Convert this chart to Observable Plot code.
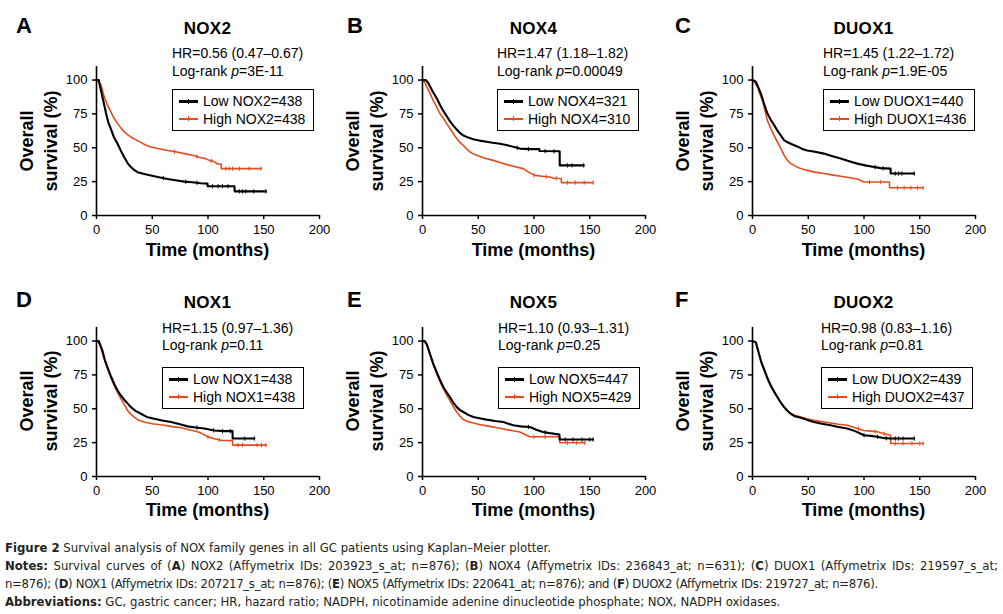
<!DOCTYPE html>
<html><head><meta charset="utf-8">
<script src="https://cdn.jsdelivr.net/npm/d3@7"></script>
<script src="https://cdn.jsdelivr.net/npm/@observablehq/plot@0.6"></script>
<style>
body{margin:0;background:#fff;}
#fig{position:relative;width:1003px;height:614px;overflow:hidden;font-family:Arial,"Liberation Sans",sans-serif;color:#000;}
.t{position:absolute;white-space:nowrap;}
.cap{position:absolute;left:5px;font-family:"Liberation Sans Narrow","DejaVu Sans Condensed",sans-serif;font-size:13px;color:#231f20;white-space:nowrap;line-height:18px;}
.leg{position:absolute;border:1px solid #000;padding:2px 8px 2px 6px;font-size:14px;line-height:18px;background:#fff;}
.sw{display:inline-block;width:19px;vertical-align:middle;margin-right:5px;position:relative;top:-1px;}
.sw i{position:absolute;left:9px;top:-4px;width:1px;height:5px;}
</style></head><body><div id="fig"></div>
<script>
// ---------- data ----------
const letters = ["A","B","C","D","E","F"];
const genes = ["NOX2","NOX4","DUOX1","NOX1","NOX5","DUOX2"];
const hrTexts = ["HR=0.56 (0.47–0.67)","HR=1.47 (1.18–1.82)","HR=1.45 (1.22–1.72)","HR=1.15 (0.97–1.36)","HR=1.10 (0.93–1.31)","HR=0.98 (0.83–1.16)"];
const pValues = ["3E-11","0.00049","1.9E-05","0.11","0.25","0.81"];
const lowN = [438,321,440,438,447,439];
const highN = [438,310,436,438,429,437];
const xTicks = [0,50,100,150,200];
const yTicks = [0,25,50,75,100];

const nox2Low = [[0,100],[2,100],[3,96],[4,92.6],[6,85],[8.4,76],[10.5,69],[12.9,64],[15.5,58],[18.9,53],[22,47.5],[24.9,43],[28,38.5],[30.8,35.8],[34,33.5],[36.8,32],[42,30.8],[48.8,29.6],[56,28.3],[63.8,27],[71,26],[78.7,25],[86,24.5],[93.7,23.8],[99.5,23.5],[99.7,21.6],[123.7,21.6],[124,17.8],[152,17.8]];
const nox2High = [[0,100],[2,99],[4,96.5],[6.9,87.6],[9.5,82],[12.9,76.5],[15.5,72],[18.9,68],[22,64.5],[24.9,61.7],[28,59.5],[30.8,58],[35,56],[39.8,54],[44,52],[48.8,50.6],[56,49.3],[63.8,48],[71,47],[78.7,45.7],[86,44.5],[93.7,42.7],[98,42],[101,40.7],[105,40],[108.7,38],[111.8,38],[112,34.6],[147.6,34.6]];
const nox4Low = [[0,100],[3,100],[5,98],[6.9,95],[9.5,91],[12.8,86.5],[15.5,82],[18.8,77],[22,73],[24.7,69.5],[28,66],[30.7,63.5],[33.5,61],[36.7,59],[41,57.5],[45.6,56.3],[51,55.3],[57.5,54.5],[63,53.7],[69.4,53],[75,52],[81.4,50.8],[87.3,49.4],[96,49],[104.8,49],[105,47.6],[123,47.4],[123.1,37],[144.6,37]];
const nox4High = [[0,100],[2,98.5],[3.9,95],[6.9,90],[9.5,85],[12.8,80],[15.5,75.5],[18.8,71.6],[22,67.5],[24.7,64],[28,60],[30.7,56.8],[33.5,54],[36.7,51.8],[39.5,49.3],[42.6,47],[45.5,45.5],[48.6,44.4],[56,42.3],[63.5,40.7],[71,38.8],[78.4,37],[84,35.8],[90.3,34.6],[95,32],[100.7,29.6],[107,29],[114,28.4],[118,27.5],[124.4,27.3],[124.6,24.3],[153,24.3]];
const duox1Low = [[0,100],[3,98.8],[5,95],[7.5,90],[10.5,82],[13.4,75.3],[16.5,70.5],[19.4,66.7],[22.5,62.5],[25.5,59],[28.4,55.5],[31,54.3],[34.3,53],[40,51],[45,49],[49,48],[56,47],[64,45.7],[71,44],[79,42],[86,40.2],[94,38.3],[101,37],[109,35.8],[115,35],[123.8,34.6],[124,31],[145,31]];
const duox1High = [[0,100],[2,98],[4.5,95],[6.5,90],[9,85],[11,78],[13.4,70],[16.5,64],[19.4,59],[22.5,54],[25.4,49.4],[28.4,44.5],[31.3,40.7],[34,38.5],[37.3,37],[42,35],[49,33.3],[56,32],[64,31],[71,30],[79,29],[86,28],[94,27],[100,24.7],[122.8,24.7],[123,20.5],[153,20.5]];
const nox1Low = [[0,100],[2,100],[3,98],[5.4,92.7],[7.5,86],[9.9,80.5],[12.9,74],[15.9,68.3],[18.9,63.5],[21.9,59.8],[25,56.5],[27.9,54],[30.8,51.2],[35,48.5],[39.8,46.3],[45,44],[51.8,42.7],[59,41.3],[66.8,40.2],[74,38.8],[81.7,37],[89,36.2],[96.7,35.4],[105.7,34],[115,33.5],[122,33.5],[122.1,28],[141.6,28]];
const nox1High = [[0,100],[2,99],[3.9,95],[6,89],[8.4,83],[12,75],[15.9,67],[18.9,62],[21.9,57.3],[24.9,53],[27.8,48.8],[30.8,46],[33.8,43.9],[38,41.5],[42.8,40.2],[50,39],[60.8,37.8],[68,36.8],[75.7,36],[83,34.5],[90.7,33],[95,31.5],[99.7,29.3],[105,28],[111.7,26.8],[122,26.5],[122.1,23.2],[152,23.2]];
const nox5Low = [[0,100],[2,100],[3.9,97.6],[6.9,90],[9.8,83],[12.8,76.8],[15.8,71],[18.8,65.9],[21.8,62],[24.7,58.5],[27.7,54.5],[30.7,51.2],[33.7,49],[36.7,47.6],[41,45.5],[45.6,43.9],[51,43],[57.5,42],[65,41],[72.4,40.2],[77,39],[81.4,37.8],[88,37],[96.3,36.6],[102,34.5],[108,32.9],[114,32],[122.8,31],[123,27.3],[153,27.3]];
const nox5High = [[0,100],[2,99],[3.9,97],[6.9,89.5],[9.8,82],[12.8,76],[15.8,70],[18.8,64.6],[21.8,60],[24.7,56],[27.7,51.5],[30.7,47.6],[33.7,44.5],[36.7,42],[41,40.5],[45.6,39.5],[52,38.2],[60.4,37],[68,35.8],[75.4,34.6],[81,33.8],[87.3,32.9],[92,31],[96.3,29.3],[123,29.3],[123.1,24.9],[145.5,24.9]];
const duox2Low = [[0,100],[3,99],[4,96],[6,90],[8,84],[10.4,79],[13.4,72.5],[16.4,67],[19.4,62.5],[22.4,58.5],[25.4,54.5],[28.4,51.2],[31.3,48.5],[34.3,46.3],[38,44.5],[43.3,43.4],[49,41.8],[55.2,40.2],[62,39],[70,37.8],[77,36.6],[85,35.4],[92,33.5],[100,30.5],[106,30],[112,29.3],[118,28.3],[124,28],[145,28]];
const duox2High = [[0,100],[3,99],[4,96],[6,90],[8,84.5],[10.4,79.5],[13.4,73],[16.4,67.5],[19.4,63],[22.4,58.5],[25.4,54.5],[28.4,51],[31.3,48.5],[34.3,46.5],[38,45],[43.3,44],[49,42.7],[55.2,41.5],[62,40.5],[70,39.5],[77,38.6],[85,37.8],[92,36],[100,34],[106,33.5],[112,33],[118,31.5],[123.8,30.5],[124,24.4],[153,24.4]];

// censored observations (tick marks)
const nox2LowCens = [[60,27.7],[80,25],[90,24.2],[104,21.6],[109,21.6],[113,21.6],[118,21.6],[128,17.8],[131,17.8],[134,17.8],[141,17.8],[152,17.8]];
const nox2HighCens = [[70,47.1],[90,43.5],[103,40.4],[116,34.6],[119,34.6],[122,34.6],[128,34.6],[137,34.6],[147.6,34.6]];
const nox4LowCens = [[85,50],[95,49],[110,47.5],[118,47.4],[130,37],[134,37],[144.6,37]];
const nox4HighCens = [[100,29.8],[111,28.7],[120,27.4],[130,24.3],[137,24.3],[145,24.3],[153,24.3]];
const duox1LowCens = [[110,35.7],[117,34.9],[128,31],[131,31],[134,31],[145,31]];
const duox1HighCens = [[105,24.7],[115,24.7],[130,20.5],[136,20.5],[142,20.5],[148,20.5],[153,20.5]];
const nox1LowCens = [[90,36.1],[105,34.1],[113,33.5],[120,33.5],[133,28],[141.6,28]];
const nox1HighCens = [[100,29.2],[110,27],[127,23.2],[131,23.2],[144,23.2],[148,23.2],[152,23.2]];
const nox5LowCens = [[95,36.6],[110,32.6],[128,27.3],[135,27.3],[143,27.3],[150,27.3],[153,27.3]];
const nox5HighCens = [[100,29.3],[110,29.3],[130,24.9],[138,24.9],[145.5,24.9]];
const duox2LowCens = [[100,30.5],[112,29.3],[120,28.2],[128,28],[131,28],[135,28],[145,28]];
const duox2HighCens = [[95,35.3],[110,33.2],[118,31.5],[128,24.4],[135,24.4],[143,24.4],[150,24.4],[153,24.4]];

const lowCurves = [nox2Low,nox4Low,duox1Low,nox1Low,nox5Low,duox2Low];
const highCurves = [nox2High,nox4High,duox1High,nox1High,nox5High,duox2High];
const lowCens = [nox2LowCens,nox4LowCens,duox1LowCens,nox1LowCens,nox5LowCens,duox2LowCens];
const highCens = [nox2HighCens,nox4HighCens,duox1HighCens,nox1HighCens,nox5HighCens,duox2HighCens];

// ---------- layout / style ----------
const RED = "#e64a1e";
const cols = [{left:0, axis:96, letterX:16}, {left:330, axis:422, letterX:347}, {left:660, axis:752, letterX:675}];
const rows = [{top:0, letterY:35, hrY:53, lrY:71, legY:89, titleY:250},
              {top:261, letterY:309, hrY:328, lrY:345, legY:367, titleY:510}];
const infoX = [172, 497, 823, 162, 498, 821];
const plotW = 223;

const tickSymbol = {draw(ctx, size){ const h = Math.sqrt(size)/2; ctx.moveTo(0,-h); ctx.lineTo(0,h); }};

const fig = document.getElementById("fig");
function addDiv(html, cls, css){ const d=document.createElement("div"); d.className=cls; d.innerHTML=html; Object.assign(d.style, css); fig.appendChild(d); return d; }

genes.forEach((g, i) => {
  const c = cols[i % 3], r = rows[Math.floor(i / 3)];
  const ml = c.axis - c.left;
  const svg = Plot.plot({
    width: 330, height: 250,
    marginLeft: ml, marginRight: 330 - ml - plotW, marginTop: 66, marginBottom: 35,
    x: {domain: [0, 200]},
    y: {domain: [0, 110]},
    style: {fontFamily: "Arial, 'Liberation Sans', sans-serif", fontSize: "13px", color: "#000", background: "transparent", overflow: "visible"},
    marks: [
      Plot.axisX({ticks: xTicks, tickSize: 4, tickPadding: 5, label: null, strokeWidth: 1.5}),
      Plot.axisY({ticks: yTicks, tickSize: 4, tickPadding: 5, label: null, strokeWidth: 1.5}),
      Plot.line(highCurves[i], {x: d => d[0], y: d => d[1], stroke: RED, strokeWidth: 1.6}),
      Plot.dot(highCens[i], {x: d => d[0], y: d => d[1], symbol: tickSymbol, r: 2.4, stroke: RED, strokeWidth: 1, fill: "none"}),
      Plot.line(lowCurves[i], {x: d => d[0], y: d => d[1], stroke: "#000", strokeWidth: 2.1}),
      Plot.dot(lowCens[i], {x: d => d[0], y: d => d[1], symbol: tickSymbol, r: 2.4, stroke: "#000", strokeWidth: 1, fill: "none"}),
      Plot.ruleX([0], {stroke: "#000", strokeWidth: 1.6}),
      Plot.ruleY([0], {stroke: "#000", strokeWidth: 1.6})
    ]
  });
  svg.style.position = "absolute";
  svg.style.left = c.left + "px";
  svg.style.top = r.top + "px";
  fig.appendChild(svg);

  addDiv(letters[i], "t", {left: c.letterX + "px", top: (r.letterY - 20) + "px", font: "bold 22px Arial, 'Liberation Sans', sans-serif", lineHeight: "22px"});
  addDiv(g, "t", {left: (c.axis + plotW/2) + "px", top: (r.letterY - 15) + "px", transform: "translateX(-50%)", font: "bold 17px Arial, 'Liberation Sans', sans-serif", lineHeight: "18px", letterSpacing: "0.3px"});
  addDiv(hrTexts[i], "t", {left: infoX[i] + "px", top: (r.hrY - 9) + "px", fontSize: "14px", lineHeight: "18px"});
  addDiv("Log-rank <i>p</i>=" + pValues[i], "t", {left: infoX[i] + "px", top: (r.lrY - 9) + "px", fontSize: "14px", lineHeight: "18px"});
  addDiv(`<div><span class="sw" style="border-top:3px solid #000"><i style="background:#000"></i></span>Low ${g}=${lowN[i]}</div><div><span class="sw" style="border-top:2px solid ${RED}"><i style="background:${RED}"></i></span>High ${g}=${highN[i]}</div>`,
    "leg", {left: infoX[i] + "px", top: r.legY + "px"});
  addDiv("Overall<br>survival (%)", "t", {left: (c.axis - 57) + "px", top: (r.titleY - 109) + "px", transform: "translate(-50%,-50%) rotate(-90deg)", font: "bold 18px Arial, 'Liberation Sans', sans-serif", lineHeight: "24px", textAlign: "center"});
  addDiv("Time (months)", "t", {left: (c.axis + plotW/2) + "px", top: (r.titleY - 11) + "px", transform: "translateX(-50%)", font: "bold 18px Arial, 'Liberation Sans', sans-serif", lineHeight: "22px"});
});

// caption
addDiv("<b>Figure 2</b> Survival analysis of NOX family genes in all GC patients using Kaplan–Meier plotter.", "cap", {top: "539px"});
addDiv("<b>Notes:</b> Survival curves of (<b>A</b>) NOX2 (Affymetrix IDs: 203923_s_at; n=876); (<b>B</b>) NOX4 (Affymetrix IDs: 236843_at; n=631); (<b>C</b>) DUOX1 (Affymetrix IDs: 219597_s_at;", "cap", {top: "557px", width: "993px", textAlign: "justify", textAlignLast: "justify", whiteSpace: "normal"});
addDiv("n=876); (<b>D</b>) NOX1 (Affymetrix IDs: 207217_s_at; n=876); (<b>E</b>) NOX5 (Affymetrix IDs: 220641_at; n=876); and (<b>F</b>) DUOX2 (Affymetrix IDs: 219727_at; n=876).", "cap", {top: "575px", letterSpacing: "-0.3px"});
addDiv("<b>Abbreviations:</b> GC, gastric cancer; HR, hazard ratio; NADPH, nicotinamide adenine dinucleotide phosphate; NOX, NADPH oxidases.", "cap", {top: "593px"});
</script></body></html>
